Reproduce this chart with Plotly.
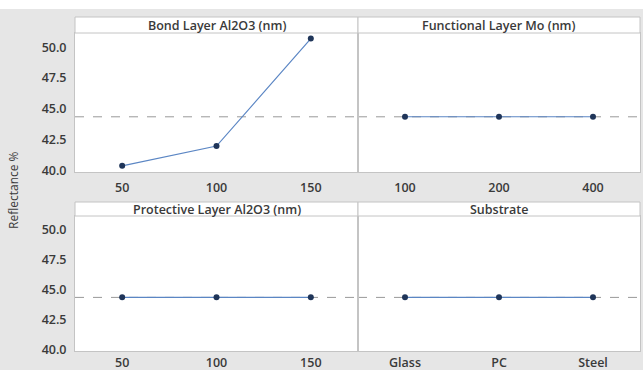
import plotly.graph_objects as go

# ---- data ----
panel_titles = ["Bond Layer Al2O3 (nm)", "Functional Layer Mo (nm)",
                "Protective Layer Al2O3 (nm)", "Substrate"]
bond_levels = ["50", "100", "150"]
bond_values = [40.4, 42.0, 50.7]
mo_levels = ["100", "200", "400"]
mo_values = [44.37, 44.37, 44.37]
prot_levels = ["50", "100", "150"]
prot_values = [44.37, 44.37, 44.37]
sub_levels = ["Glass", "PC", "Steel"]
sub_values = [44.37, 44.37, 44.37]
y_ticks = [40.0, 42.5, 45.0, 47.5, 50.0]
y_title = "Reflectance %"

grand_mean = sum(bond_values) / len(bond_values)

W, H = 643, 370
ML, MR, MT, MB = 75, 3, 17, 17
PW, PH = W - ML - MR, H - MT - MB

def px_x(x):
    return (x - ML) / PW

def px_y(y):
    return (H - MB - y) / PH

def clamp(v):
    return min(1.0, max(0.0, v))

# pixel layout of panels (plot areas) and strips
cols = [(75, 358), (358, 640)]
rows = [  # strip_top, plot_top, plot_bottom, x-label standoff
    (17, 33, 172, 4),
    (202, 216, 351, 0),
]

panels = [
    (bond_levels, bond_values),
    (mo_levels, mo_values),
    (prot_levels, prot_values),
    (sub_levels, sub_values),
]

fig = go.Figure()
font_fam = "Open Sans, Noto Sans, sans-serif"
txt_col = "#3a3a3a"
border = "#c4c4c4"
tick_font = dict(size=12.5, color=txt_col, family=font_fam, weight=600)
shapes = []
annotations = []

for i, (levels, vals) in enumerate(panels):
    r, c = divmod(i, 2)
    xa = "x" if i == 0 else f"x{i+1}"
    ya = "y" if i == 0 else f"y{i+1}"
    fig.add_trace(go.Scatter(
        x=levels, y=vals, xaxis=xa, yaxis=ya, mode="lines+markers",
        line=dict(color="#5b86c4", width=1.2),
        marker=dict(color="#1f3559", size=6),
        showlegend=False, hoverinfo="x+y"))
    x0, x1 = cols[c]
    st, pt, pb, so = rows[r]
    axkey_x = "xaxis" if i == 0 else f"xaxis{i+1}"
    axkey_y = "yaxis" if i == 0 else f"yaxis{i+1}"
    fig.layout[axkey_x] = dict(
        domain=[clamp(px_x(x0)), clamp(px_x(x1))], anchor=ya, type="category",
        range=[-0.5, 2.5], showgrid=False, zeroline=False,
        showline=True, mirror=True, linecolor=border, linewidth=1,
        tickfont=tick_font, ticks="", ticklabelstandoff=so, automargin=False)
    fig.layout[axkey_y] = dict(
        domain=[clamp(px_y(pb)), clamp(px_y(pt))], anchor=xa,
        range=[39.9, 51.15], showgrid=False, zeroline=False,
        showline=True, mirror=True, linecolor=border, linewidth=1,
        tickvals=y_ticks, ticktext=[f"{v:.1f}" for v in y_ticks],
        showticklabels=(c == 0), automargin=False,
        tickfont=tick_font, ticks="", ticklabelstandoff=5)
    # dashed grand-mean reference line
    shapes.append(dict(type="line", xref=f"{xa} domain", yref=ya,
                       x0=0, x1=1, y0=grand_mean, y1=grand_mean,
                       line=dict(color="#999999", width=1, dash="dash"),
                       layer="below"))
    # strip box
    shapes.append(dict(type="rect", xref="paper", yref="paper",
                       x0=px_x(x0), x1=px_x(x1), y0=px_y(pt), y1=px_y(st),
                       fillcolor="white", line=dict(color=border, width=1)))
    annotations.append(dict(text=panel_titles[i], xref="paper", yref="paper",
                            x=(px_x(x0) + px_x(x1)) / 2,
                            y=(px_y(pt) + px_y(st)) / 2,
                            xanchor="center", yanchor="middle", showarrow=False,
                            font=dict(size=12.5, color=txt_col, family=font_fam,
                                      weight=600)))

# white band at top of the image
shapes.append(dict(type="rect", xref="paper", yref="paper",
                   x0=px_x(0), x1=px_x(W), y0=px_y(9), y1=px_y(0),
                   fillcolor="white", line=dict(width=0), layer="below"))

annotations.append(dict(text=y_title, xref="paper", yref="paper",
                        x=px_x(14), y=px_y(190), textangle=-90,
                        xanchor="center", yanchor="middle", showarrow=False,
                        font=dict(size=12, color=txt_col, family=font_fam)))

fig.update_layout(
    width=W, height=H,
    margin=dict(l=ML, r=MR, t=MT, b=MB, autoexpand=False),
    paper_bgcolor="#e6e6e6", plot_bgcolor="white",
    shapes=shapes, annotations=annotations,
    font=dict(family=font_fam),
)

fig.write_html("out.html")
